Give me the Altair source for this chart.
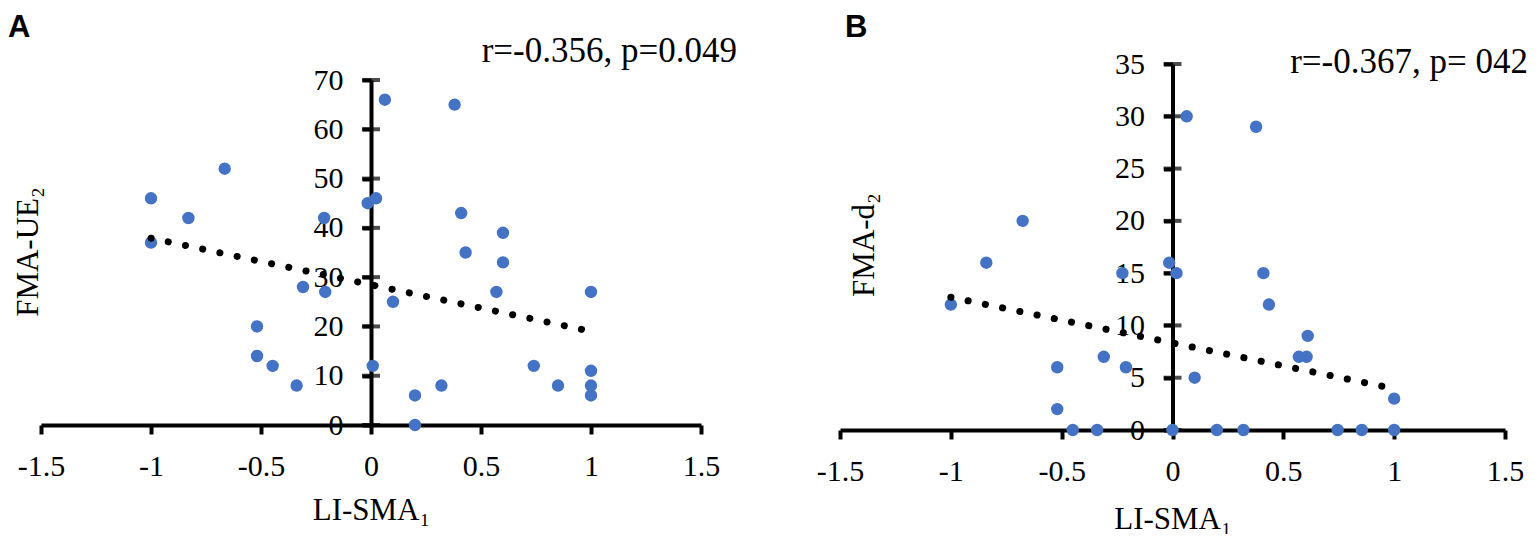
import altair as alt
import pandas as pd

# ---------------- data ----------------
A_x = [-1.0, -1.0, -0.83, -0.665, -0.518, -0.518, -0.447, -0.338, -0.309, -0.213, -0.208,
       -0.015, 0.023, 0.008, 0.063, 0.10, 0.20, 0.20, 0.32, 0.38, 0.41, 0.43,
       0.57, 0.60, 0.60, 0.74, 0.85, 1.0, 1.0, 1.0, 1.0]
A_y = [46, 37, 42, 52, 20, 14, 12, 8, 28, 42, 27,
       45, 46, 12, 66, 25, 6, 0, 8, 65, 43, 35,
       27, 39, 33, 12, 8, 27, 11, 8, 6]

B_x = [-1.0, -0.84, -0.676, -0.52, -0.52, -0.45, -0.34, -0.31, -0.226, -0.21,
       -0.015, 0.018, 0.0, 0.064, 0.10, 0.20, 0.32, 0.377, 0.41, 0.435,
       0.57, 0.605, 0.61, 0.745, 0.854, 1.0, 1.0]
B_y = [12, 16, 20, 6, 2, 0, 0, 7, 15, 6,
       16, 15, 0, 30, 5, 0, 0, 29, 15, 12,
       7, 7, 9, 0, 0, 3, 0]

A_trend_x = [-1.0, 1.0]
A_trend_y = [37.9, 19.0]
B_trend_x = [-1.0, 1.0]
B_trend_y = [12.7, 3.95]

X_TICKS = [-1.5, -1.0, -0.5, 0.0, 0.5, 1.0, 1.5]
A_Y_TICKS = [0, 10, 20, 30, 40, 50, 60, 70]
B_Y_TICKS = [0, 5, 10, 15, 20, 25, 30, 35]

A_NOTE = "r=-0.356, p=0.049"
B_NOTE = "r=-0.367, p= 042"
X_TITLE = "LI-SMA\u2081"
A_Y_TITLE = "FMA-UE\u2082"
B_Y_TITLE = "FMA-d\u2082"

SERIF = "Liberation Serif"
SANS = "Liberation Sans"
BLUE = "#4472C4"
H = 366
LABEL_EXPR = "replace(format(datum.value, ''), '\u2212', '-')"


def panel(px, py, tx, ty, yticks, ymax, yrange, x_off, width, ytitle,
          ytitle_x, ytitle_y, xtitle_y, note, note_x, note_y, letter, letter_x):
    pts = pd.DataFrame({"x": px, "y": py})
    trend = pd.DataFrame({"x": tx, "y": ty})
    ticks = pd.DataFrame({"x": [0.0] * len(yticks), "y": yticks})

    xscale = alt.Scale(domain=[-1.5, 1.5], nice=False, zero=False)
    if yrange is None:
        yscale = alt.Scale(domain=[0, ymax], nice=False, zero=False)
    else:
        yscale = alt.Scale(domain=[0, ymax], nice=False, zero=False, range=yrange)

    xaxis = alt.Axis(values=X_TICKS, title=X_TITLE, grid=False,
                     labelExpr=LABEL_EXPR,
                     labelFont=SERIF, labelFontSize=30, labelColor="black",
                     labelPadding=17, labelFlush=False, labelOverlap=False,
                     domainColor="black", domainWidth=4,
                     tickColor="black", tickWidth=4, tickSize=9,
                     offset=x_off,
                     titleFont=SERIF, titleFontSize=31, titleFontWeight="normal",
                     titleColor="black", titleY=xtitle_y, titleBaseline="alphabetic")
    yaxis = alt.Axis(values=yticks, title=ytitle, grid=False, orient="left",
                     offset=-width / 2,
                     labelExpr=LABEL_EXPR,
                     labelFont=SERIF, labelFontSize=30, labelColor="black",
                     labelPadding=19, labelFlush=False, labelOverlap=False,
                     domainColor="black", domainWidth=4,
                     tickColor="black", tickWidth=4, tickSize=9,
                     titleFont=SERIF, titleFontSize=31, titleFontWeight="normal",
                     titleColor="black", titleX=ytitle_x, titleY=ytitle_y,
                     titleAngle=270, titleBaseline="alphabetic", titleAlign="center")

    xenc = alt.X("x:Q", scale=xscale, axis=xaxis)
    yenc = alt.Y("y:Q", scale=yscale, axis=yaxis)

    tick_layer = alt.Chart(ticks).mark_tick(
        orient="horizontal", size=18, thickness=4, color="black"
    ).encode(x=xenc, y=yenc)

    pt_layer = alt.Chart(pts).mark_circle(size=154, color=BLUE, opacity=1).encode(x=xenc, y=yenc)

    trend_layer = alt.Chart(trend).mark_line(
        color="black", strokeWidth=7, strokeCap="round", strokeDash=[0.1, 17.5]
    ).encode(x=xenc, y=yenc)

    note_layer = alt.Chart(pd.DataFrame({"t": [note]})).mark_text(
        font=SERIF, fontSize=35, color="black", align="right", baseline="alphabetic"
    ).encode(x=alt.value(note_x), y=alt.value(note_y), text="t:N")

    letter_layer = alt.Chart(pd.DataFrame({"t": [letter]})).mark_text(
        font=SANS, fontSize=31, fontWeight="bold", color="black", align="left", baseline="top"
    ).encode(x=alt.value(letter_x), y=alt.value(-51), text="t:N")

    return alt.layer(tick_layer, pt_layer, trend_layer, note_layer, letter_layer).properties(
        width=width, height=H
    )


chart_a = panel(A_x, A_y, A_trend_x, A_trend_y, A_Y_TICKS, 70, [361, 16], -5, 660,
                A_Y_TITLE, -334, 187.5, 94, A_NOTE, 696, -2, "A", -33)
chart_b = panel(B_x, B_y, B_trend_x, B_trend_y, B_Y_TICKS, 35, None, 0, 665,
                B_Y_TITLE, -299.5, 180.5, 98, B_NOTE, 688, 8.7, "B", 5)

chart = alt.hconcat(chart_a, chart_b, spacing=139, bounds="flush").properties(
    padding={"top": 4, "left": 0, "right": 0, "bottom": 0}, background="white"
).configure_view(stroke=None)

chart.save("out.html", embed_options={"renderer": "svg", "actions": False})
